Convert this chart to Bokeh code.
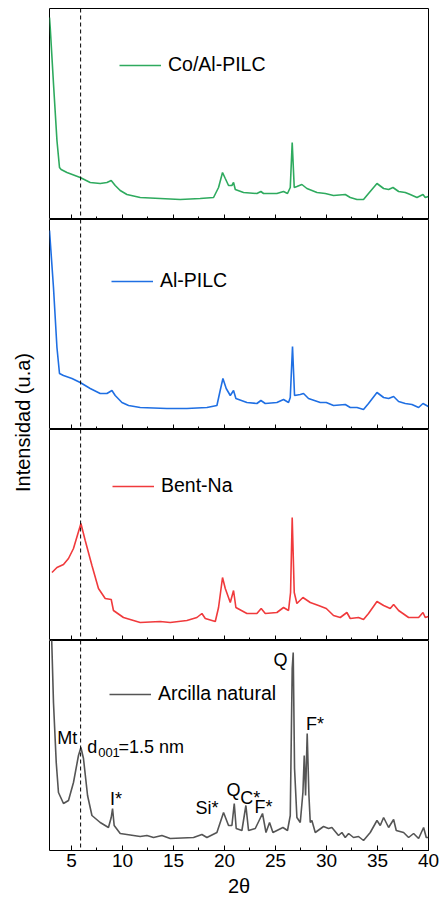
from bokeh.plotting import figure
from bokeh.models import (Range1d, Span, Label, Legend, LegendItem, SingleIntervalTicker,
                          CustomLabelingPolicy)
from bokeh.layouts import row, column
from bokeh.embed import file_html
from bokeh.resources import INLINE

FONT = "Liberation Sans"

# ---------------- data (2theta, intensity a.u.) ----------------
x_co = [2.85, 2.92, 3.24, 3.58, 3.83, 3.99, 4.56, 5.86, 6.84, 7.82, 8.48, 8.9, 9.29, 9.78, 10.44,
        11.74, 13.7, 15.66, 17.62, 18.93, 19.42, 19.81, 20.08, 20.4, 20.73, 20.89, 21.06, 21.87,
        23.18, 23.57, 23.83, 25.14, 25.79, 26.18, 26.45, 26.64, 26.84, 27.1, 27.59, 28.08, 29.07,
        29.88, 30.69, 31.84, 32.33, 32.99, 33.63, 34.12, 34.95, 35.6, 36.09, 36.52, 37.07, 37.72,
        38.21, 38.87, 39.46, 39.68, 39.98]
y_co = [202, 192, 136, 79, 52, 50, 47, 42, 37, 36, 37, 39, 34, 29, 25,
        22, 21, 20, 21, 22, 32, 47, 41, 34, 34, 37, 30, 27,
        26, 28, 26, 26, 28, 26, 32, 77, 32, 33, 35, 31, 27,
        26, 24, 25, 22, 20, 20, 26, 36, 31, 30, 32, 28, 27,
        25, 22, 25, 22, 23]

x_al = [2.85, 3.24, 3.58, 3.83, 4.22, 5.05, 5.86, 6.84, 7.82, 8.48, 8.97, 9.29, 9.95, 10.6,
        11.74, 14.36, 16.32, 18.28, 19.26, 19.58, 19.85, 20.17, 20.57, 20.89, 21.12, 22.2,
        23.18, 23.57, 24.0, 25.14, 25.79, 26.28, 26.45, 26.67, 26.87, 27.43, 27.75, 28.24,
        29.39, 29.98, 30.69, 31.84, 32.33, 32.99, 33.63, 34.12, 34.95, 35.6, 36.09, 36.58,
        37.07, 37.72, 38.38, 39.03, 39.46, 39.98]
y_al = [199, 142, 82, 56, 54, 51, 47, 41, 36, 36, 39, 34, 27, 24,
        22, 21, 21, 22, 24, 39, 51, 41, 34, 39, 31, 27,
        26, 29, 26, 27, 30, 27, 32, 83, 34, 35, 36, 31,
        27, 27, 24, 25, 22, 22, 20, 26, 37, 32, 31, 33,
        28, 26, 25, 22, 26, 23]

x_bent = [3.09, 3.58, 4.22, 4.71, 5.2, 5.93, 6.35, 7.01, 7.65, 8.31, 8.9, 9.12, 10.1, 11.74,
          13.7, 14.68, 16.32, 17.3, 17.79, 18.12, 19.1, 19.42, 19.81, 20.08, 20.57, 20.89,
          21.12, 22.2, 23.18, 23.6, 24.0, 25.14, 25.79, 26.28, 26.48, 26.64, 26.84, 27.1,
          27.69, 28.41, 29.22, 29.98, 30.69, 31.35, 32.0, 32.33, 33.14, 33.63, 34.12, 34.95,
          35.6, 36.25, 36.58, 37.07, 38.05, 39.03, 39.46, 39.68, 39.98]
y_bent = [68, 73, 76, 82, 92, 117, 100, 75, 52, 42, 41, 30, 23, 18,
          19, 18, 20, 23, 27, 22, 19, 33, 63, 52, 38, 50,
          33, 27, 27, 32, 27, 28, 33, 30, 48, 123, 48, 37,
          43, 38, 35, 32, 25, 23, 28, 22, 23, 21, 27, 39,
          35, 32, 36, 30, 23, 23, 28, 23, 24]

x_arc = [2.95, 3.09, 3.24, 3.51, 3.73, 4.22, 4.71, 5.2, 5.69, 5.93, 6.18, 6.58, 7.01, 7.82,
         8.63, 8.9, 9.03, 9.19, 9.78, 11.74, 12.4, 13.05, 13.87, 14.68, 16.97, 17.79, 18.28,
         19.26, 19.91, 20.4, 20.73, 20.96, 21.15, 21.71, 22.1, 22.36, 23.02, 23.73, 24.07,
         24.42, 24.75, 25.73, 26.18, 26.45, 26.64, 26.74, 26.87, 27.1, 27.43, 27.69, 27.82,
         27.95, 28.11, 28.28, 28.41, 28.57, 28.9, 29.71, 30.2, 30.53, 31.18, 31.51, 31.84,
         32.17, 32.65, 33.14, 33.63, 34.29, 34.95, 35.27, 35.6, 36.09, 36.58, 36.84, 37.56,
         38.05, 38.54, 39.03, 39.52, 39.78, 39.98]
y_arc = [250, 202, 148, 88, 58, 47, 50, 68, 95, 103, 92, 55, 35, 28,
         23, 33, 42, 25, 17, 14, 15, 13, 15, 12, 13, 16, 13,
         18, 38, 25, 25, 47, 22, 20, 45, 20, 22, 37, 18,
         28, 18, 23, 20, 35, 182, 198, 82, 33, 28, 58, 95,
         55, 117, 55, 28, 30, 18, 24, 22, 23, 15, 18, 13,
         17, 13, 14, 10, 18, 30, 25, 33, 23, 31, 20, 18,
         13, 17, 12, 23, 13, 13]

names = ["Co/Al-PILC", "Al-PILC", "Bent-Na", "Arcilla natural"]
colors = ["#2eaa5e", "#1f6fe3", "#f03a3c", "#555555"]
d001_position = 5.9

# ---------------- layout ----------------
x_range = Range1d(2.85, 40)
no_labels = CustomLabelingPolicy(code="""
for (const i of indices) { indices.unset(i) }
return indices
""")


def panel(x, y, color, name, height, ymax, leg_xy, top=0, bottom=False):
    p = figure(width=391, height=height, x_range=x_range, y_range=Range1d(0, ymax),
               output_backend="svg", toolbar_location=None, y_axis_location=None,
               min_border_left=1, min_border_right=11, min_border_top=top,
               min_border_bottom=0)
    p.xgrid.visible = False
    p.ygrid.visible = False
    p.outline_line_color = "black"
    p.outline_line_width = 1
    p.background_fill_color = "white"
    p.border_fill_color = "white"
    ax = p.xaxis[0]
    ax.ticker = SingleIntervalTicker(interval=5, num_minor_ticks=2)
    ax.major_tick_in = 5
    ax.major_tick_out = 0
    ax.minor_tick_in = 3
    ax.minor_tick_out = 0
    ax.axis_line_color = None
    ax.major_tick_line_color = "black"
    ax.minor_tick_line_color = "black"
    if bottom:
        ax.major_label_text_font = FONT
        ax.major_label_text_font_size = "19px"
        ax.major_label_text_color = "black"
        ax.major_label_standoff = 3
        ax.axis_label = "2θ"
        ax.axis_label_text_font = FONT
        ax.axis_label_text_font_size = "20px"
        ax.axis_label_text_font_style = "normal"
        ax.axis_label_text_color = "black"
        ax.axis_label_standoff = 5
    else:
        ax.major_label_text_font_size = "0px"
        ax.major_label_standoff = 0
        ax.major_label_policy = no_labels
    r = p.line(x, y, line_color=color, line_width=1.6)
    p.add_layout(Span(location=d001_position, dimension="height", line_color="black",
                      line_width=1, line_dash="4 3"))
    leg = Legend(items=[LegendItem(label=name, renderers=[r])], location=leg_xy,
                 glyph_width=42, glyph_height=20, label_standoff=7, padding=0, margin=0,
                 border_line_color=None, background_fill_alpha=0,
                 label_text_font=FONT, label_text_font_size="19.5px", label_text_color="black")
    p.add_layout(leg)
    return p


p1 = panel(x_co, y_co, colors[0], names[0], 219, 211, (70, 143), top=8)
p2 = panel(x_al, y_al, colors[1], names[1], 210, 210, (62, 137))
p3 = panel(x_bent, y_bent, colors[2], names[2], 211, 211, (63, 143))
p4 = panel(x_arc, y_arc, colors[3], names[3], 259, 210, (60, 145), bottom=True)

ann_font = "18px"
annotations = [
    ("Mt", 4.59, 113), ("I*", 9.37, 52), ("Si*", 18.28, 43), ("Q", 20.89, 61),
    ("C*", 22.53, 53), ("F*", 23.83, 44), ("Q", 25.5, 191), ("F*", 28.87, 127),
]
for t, ax_, ay in annotations:
    p4.add_layout(Label(x=ax_, y=ay, text=t, text_align="center", text_baseline="middle",
                        text_font=FONT, text_font_size=ann_font, text_color="black"))
p4.add_layout(Label(x=6.55, y=104, text="d", text_align="left", text_baseline="middle",
                    text_font=FONT, text_font_size=ann_font, text_color="black"))
p4.add_layout(Label(x=7.62, y=98, text="001", text_align="left", text_baseline="middle",
                    text_font=FONT, text_font_size="13px", text_color="black"))
p4.add_layout(Label(x=9.61, y=104, text="=1.5 nm", text_align="left", text_baseline="middle",
                    text_font=FONT, text_font_size=ann_font, text_color="black"))

lab = figure(width=48, height=899, x_range=Range1d(0, 1), y_range=Range1d(0, 1),
             output_backend="svg", toolbar_location=None, x_axis_location=None,
             y_axis_location=None, min_border=0, outline_line_color=None)
lab.xgrid.visible = False
lab.ygrid.visible = False
lab.add_layout(Label(x=22 / 48, y=1 - 422 / 899, text="Intensidad (u.a)", angle=90,
                     angle_units="deg", text_align="center", text_baseline="middle",
                     text_font=FONT, text_font_size="20px", text_color="black"))

layout = row(lab, column(p1, p2, p3, p4, spacing=0), spacing=0)
open("out.html", "w").write(file_html(layout, INLINE))
